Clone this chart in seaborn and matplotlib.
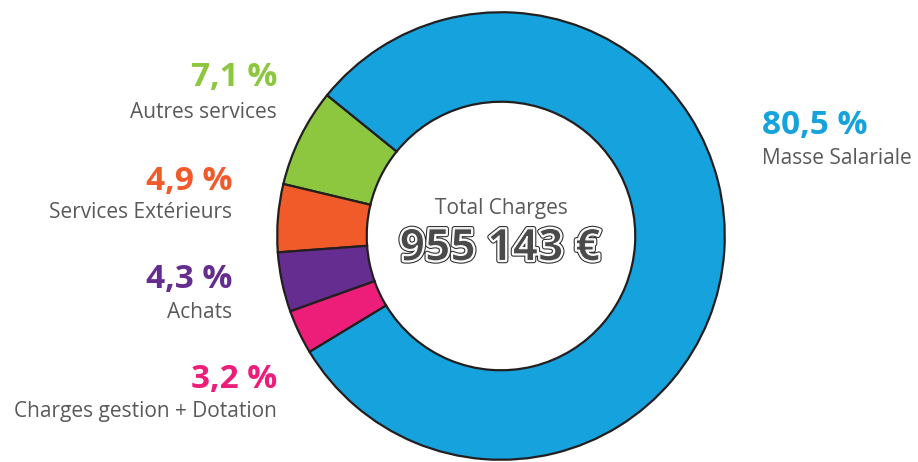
import matplotlib
matplotlib.use("Agg")
import matplotlib.pyplot as plt
import matplotlib.patheffects as pe
import seaborn as sns

# data (counter-clockwise from the top-left boundary)
categories = ["Autres services", "Services Extérieurs", "Achats",
              "Charges gestion + Dotation", "Masse Salariale"]
shares = [7.1, 4.9, 4.3, 3.2, 80.5]
pct_labels = ["7,1 %", "4,9 %", "4,3 %", "3,2 %", "80,5 %"]
colors = ["#8DC63F", "#F15A29", "#662D91", "#EC1E79", "#16A2DC"]
total_label = "955 143 €"

sns.set_theme(style="white")
plt.rcParams["font.family"] = ["Open Sans", "DejaVu Sans"]

W, H = 918, 462
fig = plt.figure(figsize=(W / 100, H / 100), dpi=100)

# donut axes: center (501, 236) px, radius 226 px
cx, cy, r = 501, 236, 226
ax = fig.add_axes([(cx - r) / W, (H - cy - r) / H, 2 * r / W, 2 * r / H])
ax.pie(shares, colors=colors, startangle=141, counterclock=True,
       radius=1, wedgeprops=dict(width=0.40, edgecolor="#231F20", linewidth=1.6))
ax.set_xlim(-1.01, 1.01)
ax.set_ylim(-1.01, 1.01)
ax.set_aspect("equal")
ax.axis("off")

def px(x, y):
    return x / W, 1 - y / H

# label positions (pixels): x anchor, pct y, name y, alignment
layout = [
    (277, 78, 113, "right"),
    (232, 181, 213, "right"),
    (232, 280, 312, "right"),
    (277, 379, 411, "right"),
    (762, 126, 159, "left"),
]
gray = "#58595B"
for (x, yp, yn, ha), name, pct, col in zip(layout, categories, pct_labels, colors):
    fig.text(*px(x, yp), pct, ha=ha, va="center", fontsize=24,
             fontweight="bold", color=col)
    fig.text(*px(x, yn), name, ha=ha, va="center", fontsize=15, color=gray)

fig.text(*px(501, 209), "Total Charges", ha="center", va="center",
         fontsize=15, color=gray)
# striped display font approximated with layered outlines
fig.text(*px(500, 249), total_label, ha="center", va="center",
         fontsize=32, fontweight="bold", color="#4A4A4A",
         path_effects=[pe.Stroke(linewidth=4, foreground="#333333"),
                       pe.Stroke(linewidth=2.4, foreground="white"),
                       pe.Normal(),
                       pe.Stroke(linewidth=0.8, foreground="white"),
                       ])

fig.savefig("out.png", dpi=100, facecolor="white")
